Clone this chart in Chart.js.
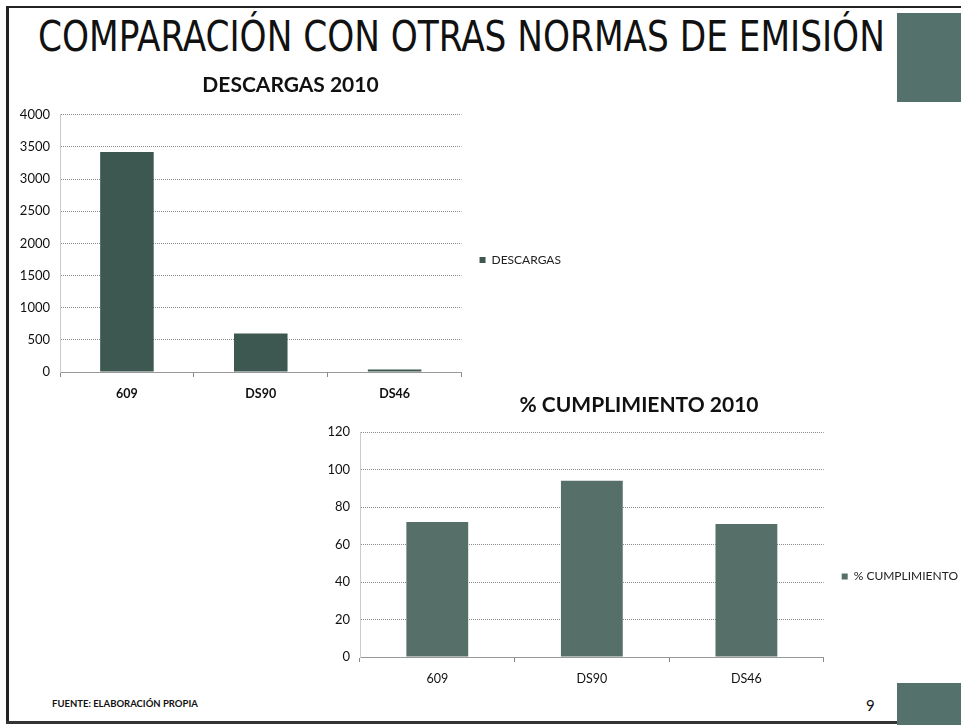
<!DOCTYPE html>
<html>
<head>
<meta charset="utf-8">
<script src="https://cdn.jsdelivr.net/npm/chart.js@4.4.0/dist/chart.umd.min.js"></script>
<style>
  html, body { margin: 0; padding: 0; background: #fff; overflow: hidden; }
  body { width: 961px; height: 725px; position: relative; font-family: Lato, sans-serif; }
  .box { position: absolute; }
  #title { left: 38px; top: 12px; font-family: "DejaVu Sans Condensed", "DejaVu Sans", sans-serif;
           font-size: 42px; color: #111; white-space: nowrap; transform-origin: 0 0; }
  #c1wrap { left: 10px; top: 70px; width: 561px; height: 340px; }
  #c2wrap { left: 310px; top: 390px; width: 658px; height: 305px; }
</style>
</head>
<body>
<div class="box" style="left:6px;top:6px;width:961px;height:2px;background:#222"></div>
<div class="box" style="left:6px;top:6px;width:3px;height:718px;background:#222"></div>
<div class="box" style="left:6px;top:721px;width:900px;height:3px;background:#333"></div>
<div class="box" style="left:897px;top:13px;width:64px;height:89px;background:#55716b;z-index:5"></div>
<div class="box" style="left:897px;top:683px;width:64px;height:42px;background:#55716b;z-index:5"></div>
<div class="box" id="title">COMPARACIÓN CON OTRAS NORMAS DE EMISIÓN</div>
<div class="box" style="left:52px;top:698px;font-size:9.5px;font-weight:bold;color:#111">FUENTE: ELABORACIÓN PROPIA</div>
<div class="box" style="left:866px;top:696px;font-size:15px;color:#111">9</div>
<div class="box" id="c1wrap"><canvas id="chart1"></canvas></div>
<div class="box" id="c2wrap"><canvas id="chart2"></canvas></div>
<script>
const categories = ['609', 'DS90', 'DS46'];
const descargas = [3420, 600, 40];
const cumplimiento = [72, 94, 71];

// fit the slide title to its width
const t = document.getElementById('title');
t.style.transform = 'scaleX(' + (847 / t.offsetWidth) + ')';

// moves the side legend down a bit, like in the slide
const legendShift = {
  id: 'legendShift',
  afterLayout(chart, args, opts) {
    const dy = opts.dy || 0;
    chart.legend.top += dy;
    chart.legend.bottom += dy;
  }
};

function drawBarChart(id, title, label, data, color, yMax, yStep, titlePad, legendDy, xBold) {
  const ctx = document.getElementById(id);
  return new Chart(ctx, {
    type: 'bar',
    data: {
      labels: categories,
      datasets: [{
        label: label,
        data: data,
        backgroundColor: color,
        borderWidth: 0,
        barPercentage: 0.4,
        categoryPercentage: 1.0,
      }]
    },
    options: {
      responsive: true,
      maintainAspectRatio: false,
      animation: false,
      layout: { padding: 0 },
      plugins: {
        title: {
          display: true,
          text: title,
          color: '#111',
          font: { family: 'Lato', size: 21, weight: 'bold' },
          padding: { top: 3, bottom: titlePad }
        },
        legend: {
          position: 'right',
          labels: {
            boxWidth: 6,
            boxHeight: 6,
            padding: 18,
            color: '#222',
            font: { family: 'Lato', size: 12 }
          }
        },
        legendShift: { dy: legendDy },
        tooltip: { enabled: false }
      },
      scales: {
        x: {
          grid: { display: true, drawOnChartArea: false, drawTicks: true, tickLength: 5, color: '#888' },
          border: { display: true, color: '#999' },
          ticks: { color: '#111', padding: 9, font: { family: 'Lato', size: 12.5, weight: xBold ? 'bold' : 'normal' } }
        },
        y: {
          min: 0,
          max: yMax,
          afterFit(scale) { scale.width = 50; },
          grid: { color: '#8c8c8c', drawTicks: false },
          border: { display: true, color: '#ccc', dash: [1, 1] },
          ticks: {
            stepSize: yStep,
            color: '#111',
            padding: 10,
            font: { family: 'Lato', size: 13 },
            callback: v => String(v)
          }
        }
      }
    },
    plugins: [legendShift]
  });
}

drawBarChart('chart1', 'DESCARGAS 2010', 'DESCARGAS', descargas, '#3d5751', 4000, 500, 16.6, 20, true);
drawBarChart('chart2', '% CUMPLIMIENTO 2010', '% CUMPLIMIENTO', cumplimiento, '#566f69', 120, 20, 13.8, 34, false);
</script>
</body>
</html>
